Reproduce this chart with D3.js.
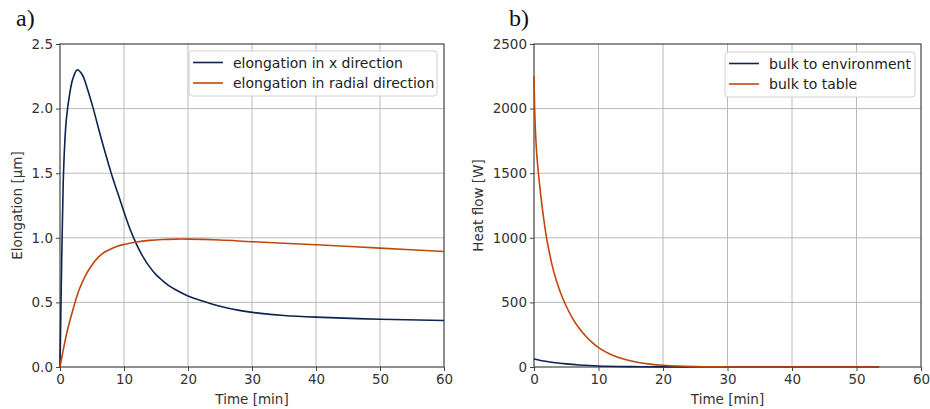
<!DOCTYPE html>
<meta charset="utf-8">
<style>
body { margin: 0; background: #fff; }
svg { display: block; }
.tick text { font: 13.5px "DejaVu Sans", sans-serif; fill: #333; }
.tick line { stroke: #444; }
.grid line { stroke: #b8b8b8; stroke-width: 1; }
.lbl { font: 13.5px "DejaVu Sans", sans-serif; fill: #333; }
.leg { font: 14px "DejaVu Sans", sans-serif; fill: #222; }
.panel { font: 24px "Liberation Serif", "Times New Roman", serif; fill: #111; }
</style>
<svg width="930" height="409"></svg>
<script src="https://cdnjs.cloudflare.com/ajax/libs/d3/7.8.5/d3.min.js"></script>
<script>
// panel a) elongation [um] over time [min]
var elongT = [0, 0.25, 0.5, 0.75, 1, 1.5, 2, 2.7, 3.5, 4.3, 5.2, 6, 7, 8, 9, 10, 11, 12, 13, 14, 15, 16, 17, 18, 20, 22, 25, 28, 31, 35, 40, 50, 60];
var elongX = [0, 0.78, 1.42, 1.74, 1.92, 2.11, 2.23, 2.30, 2.26, 2.15, 2.0, 1.85, 1.67, 1.5, 1.35, 1.2, 1.06, 0.945, 0.85, 0.775, 0.715, 0.67, 0.63, 0.60, 0.55, 0.515, 0.47, 0.438, 0.417, 0.399, 0.386, 0.37, 0.36];
var radT = [0, 0.5, 1, 1.5, 2, 3, 4, 5, 6, 7, 8, 9, 10, 12, 14, 16, 18, 20, 25, 30, 40, 50, 60];
var radV = [0, 0.13, 0.25, 0.35, 0.44, 0.6, 0.71, 0.79, 0.85, 0.89, 0.915, 0.935, 0.948, 0.968, 0.98, 0.987, 0.99, 0.99, 0.983, 0.97, 0.946, 0.92, 0.894];

// panel b) heat flow [W] over time [min]
var envT = [0, 1, 2, 3, 5, 7, 10, 15, 20, 30, 40, 53.5];
var envV = [62, 51, 42, 35, 24, 16, 8, 3, 1, 0, 0, 0];
var tabT = [0, 0.1, 0.25, 0.5, 1, 1.5, 2, 3, 4, 5, 6, 7, 8, 9, 10, 12, 14, 16, 18, 20, 25, 30, 40, 53.5];
var tabV = [2255, 2000, 1800, 1600, 1350, 1150, 985, 750, 590, 470, 375, 300, 240, 190, 150, 95, 60, 37, 22, 13, 3, 0.5, 0, 0];

var xTicks = [0, 10, 20, 30, 40, 50, 60];
var blue = "#0b2450", orange = "#c0460c";

var svg = d3.select("svg");

function panel(o) {
  var x = d3.scaleLinear().domain([0, 60]).range([o.left, o.right]);
  var y = d3.scaleLinear().domain([0, o.ymax]).range([367, 44]);
  var g = svg.append("g");

  g.append("g").attr("class", "grid")
    .selectAll("line").data(xTicks.slice(1, -1)).enter().append("line")
    .attr("x1", x).attr("x2", x).attr("y1", y(0)).attr("y2", y(o.ymax));
  g.append("g").attr("class", "grid")
    .selectAll("line").data(o.yTicks.slice(1, -1)).enter().append("line")
    .attr("y1", y).attr("y2", y).attr("x1", x(0)).attr("x2", x(60));

  g.append("rect")
    .attr("x", x(0)).attr("y", y(o.ymax))
    .attr("width", x(60) - x(0)).attr("height", y(0) - y(o.ymax))
    .attr("fill", "none").attr("stroke", "#444").attr("stroke-width", 1.2);

  var line = d3.line().curve(d3.curveCatmullRom.alpha(0.5))
    .x(function(d) { return x(d[0]); })
    .y(function(d) { return y(d[1]); });

  o.series.forEach(function(s) {
    g.append("path")
      .datum(d3.zip(s.t, s.v))
      .attr("fill", "none").attr("stroke", s.color).attr("stroke-width", 1.6)
      .attr("d", line);
  });

  g.append("g").attr("transform", "translate(0," + y(0) + ")")
    .call(d3.axisBottom(x).tickValues(xTicks).tickSize(4).tickPadding(3))
    .call(function(a) { a.select(".domain").remove(); });
  g.append("g").attr("transform", "translate(" + x(0) + ",0)")
    .call(d3.axisLeft(y).tickValues(o.yTicks).tickSize(4).tickPadding(3).tickFormat(o.fmt))
    .call(function(a) { a.select(".domain").remove(); });

  g.append("text").attr("class", "lbl")
    .attr("x", (x(0) + x(60)) / 2).attr("y", 404)
    .attr("text-anchor", "middle").text("Time [min]");
  g.append("text").attr("class", "lbl")
    .attr("transform", "translate(" + o.ylx + "," + (y(0) + y(o.ymax)) / 2 + ") rotate(-90)")
    .attr("text-anchor", "middle").text(o.ylabel);

  g.append("text").attr("class", "panel")
    .attr("x", o.px).attr("y", 26).text(o.name);

  var lg = g.append("g").attr("transform", "translate(" + o.lg[0] + "," + o.lg[1] + ")");
  lg.append("rect").attr("width", o.lg[2]).attr("height", 45).attr("rx", 3)
    .attr("fill", "#fff").attr("fill-opacity", 0.9).attr("stroke", "#d0d0d0");
  o.series.forEach(function(s, i) {
    var yy = 11.5 + i * 20.5;
    lg.append("line").attr("x1", 4).attr("x2", 34).attr("y1", yy).attr("y2", yy)
      .attr("stroke", s.color).attr("stroke-width", 1.6);
    lg.append("text").attr("class", "leg").attr("x", 44).attr("y", yy + 5).text(s.name);
  });
}

panel({
  left: 60, right: 444, ymax: 2.5,
  yTicks: [0, 0.5, 1, 1.5, 2, 2.5], fmt: d3.format(".1f"),
  ylabel: "Elongation [\u00b5m]", ylx: 22, name: "a)", px: 16,
  lg: [189, 51, 248],
  series: [
    { name: "elongation in x direction", t: elongT, v: elongX, color: blue },
    { name: "elongation in radial direction", t: radT, v: radV, color: orange }
  ]
});

panel({
  left: 534, right: 921, ymax: 2500,
  yTicks: [0, 500, 1000, 1500, 2000, 2500], fmt: d3.format("d"),
  ylabel: "Heat flow [W]", ylx: 483, name: "b)", px: 509,
  lg: [725, 52, 190],
  series: [
    { name: "bulk to environment", t: envT, v: envV, color: blue },
    { name: "bulk to table", t: tabT, v: tabV, color: orange }
  ]
});
</script>
